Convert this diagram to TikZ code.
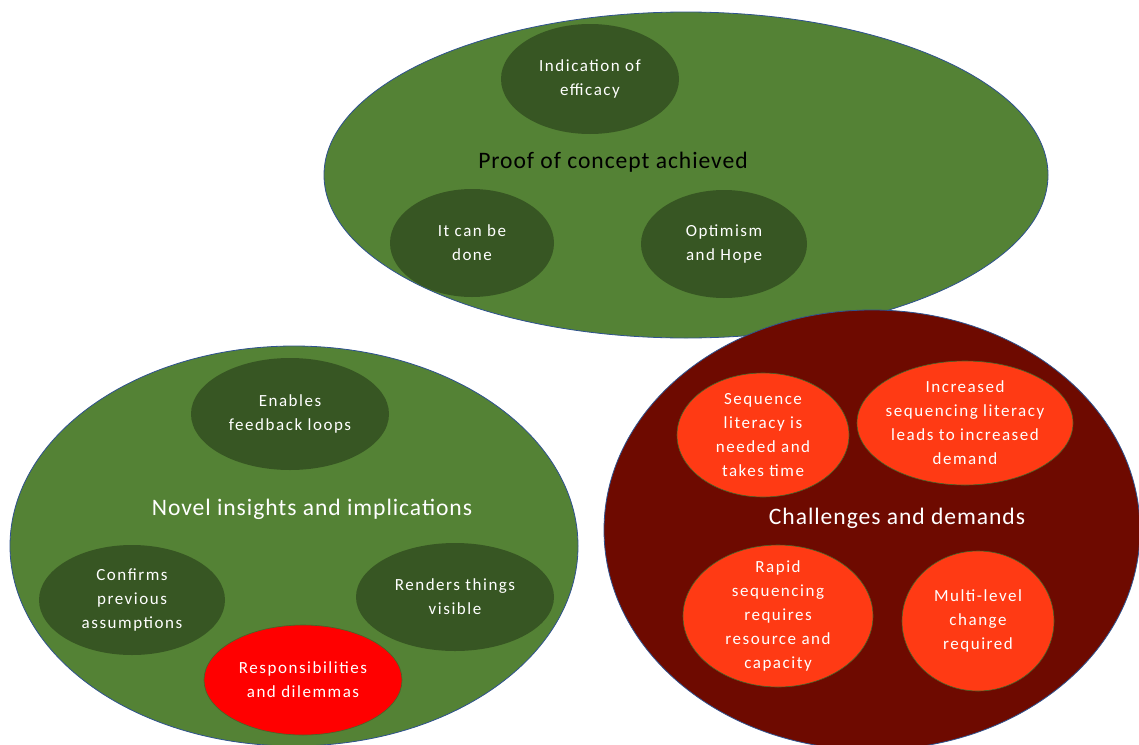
\documentclass[tikz,border=0pt]{standalone}
\usepackage{fontspec}
\setmainfont{Carlito}[LetterSpace=4]
\newfontfamily\innerfont{Carlito}[LetterSpace=9]
\newfontfamily\titlefont{Carlito}[LetterSpace=4]
\usetikzlibrary{shapes.geometric}
\definecolor{bgreen}{HTML}{548235}
\definecolor{dgreen}{HTML}{375623}
\definecolor{bblue}{HTML}{2F528F}
\definecolor{dred}{HTML}{6E0A00}
\definecolor{ored}{HTML}{FF3A14}
\definecolor{pred}{HTML}{FF0000}
\tikzset{
  bigell/.style={ellipse, draw=bblue, line width=0.8pt, inner sep=0pt},
  inell/.style={ellipse, inner sep=-20pt, text=white, align=center,
    font=\innerfont\fontsize{17}{24}\selectfont},
  grell/.style={inell, fill=dgreen},
  redell/.style={inell, fill=ored, draw=bgreen!80!black, line width=0.6pt},
  title/.style={font=\titlefont\fontsize{23.6}{28}\selectfont, inner sep=0pt}
}
\begin{document}
\begin{tikzpicture}[x=1pt,y=-1pt]
\useasboundingbox (0,0) rectangle (1139,744);
% top ellipse
\node[bigell, fill=bgreen, minimum width=724, minimum height=326] (top) at (686,175) {};
\node[grell, minimum width=178, minimum height=110] (eff) at (590,79) {Indication of\\efficacy};
\node[grell, minimum width=164, minimum height=108] (done) at (472,243) {It can be\\done};
\node[grell, minimum width=166, minimum height=108] (hope) at (724,244) {Optimism\\and Hope};
\node[title, text=black] (ttop) at (613,162) {Proof of concept achieved};
% left ellipse
\node[bigell, fill=bgreen, minimum width=568, minimum height=400] (left) at (294,546) {};
\node[grell, minimum width=198, minimum height=112] (feed) at (290,414) {Enables\\feedback loops};
\node[grell, minimum width=186, minimum height=110] (conf) at (132,600) {Confirms\\previous\\assumptions};
\node[grell, minimum width=198, minimum height=108] (vis) at (455,597) {Renders things\\visible};
\node[inell, fill=pred, draw=bgreen!80!black, line width=0.6pt, minimum width=198, minimum height=110] (resp) at (303,680) {Responsibilities\\and dilemmas};
\node[title, text=white] (tleft) at (312,509) {Novel insights and implications};
% right ellipse
\node[bigell, fill=dred, minimum width=536, minimum height=440] (right) at (872,530) {};
\node[redell, minimum width=172, minimum height=124] (seq) at (763,435) {Sequence\\literacy is\\needed and\\takes time};
\node[redell, minimum width=216, minimum height=124] (inc) at (965,423) {Increased\\sequencing literacy\\leads to increased\\demand};
\node[redell, minimum width=190, minimum height=142] (rap) at (778,616) {Rapid\\sequencing\\requires\\resource and\\capacity};
\node[redell, minimum width=152, minimum height=140] (multi) at (978,621) {Multi-level\\change\\required};
\node[title, text=white] (tright) at (897,518) {Challenges and demands};
\end{tikzpicture}
\end{document}
